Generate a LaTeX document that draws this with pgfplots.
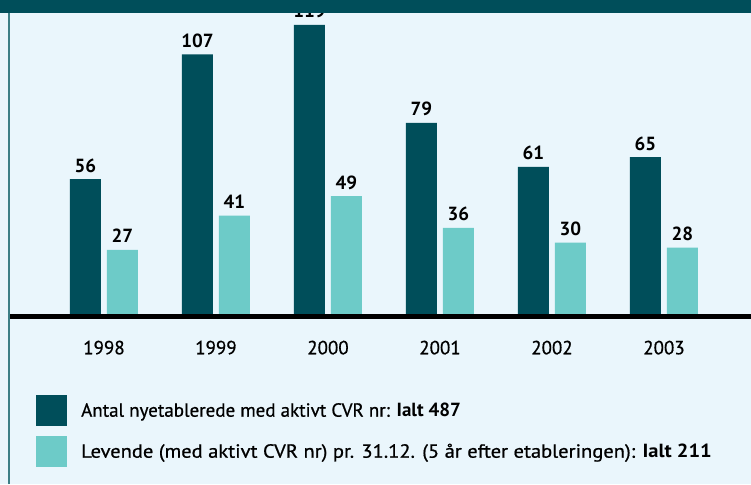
\documentclass[border=0pt]{standalone}
\usepackage{fontspec}
\setmainfont{PT Sans}
\newfontfamily\medfont[FakeBold=0.7]{PT Sans}
\usepackage{pgfplots}
\pgfplotsset{compat=1.18}
\definecolor{dk}{HTML}{004E5A}
\definecolor{lt}{HTML}{6DCBC8}
\definecolor{bg}{HTML}{EAF6FC}
\definecolor{brd}{HTML}{3D7F86}
\newcommand{\fs}{\fontsize{19}{23}\selectfont}
\begin{document}
\begin{tikzpicture}[x=1pt,y=1pt]
\fill[bg] (0,0) rectangle (751,484);
\begin{axis}[
  at={(10pt,168pt)}, anchor=south west,
  scale only axis, width=741pt, height=303pt,
  xmin=-0.839, xmax=5.777, ymin=0, ymax=123.9,
  ybar, bar width=31pt, clip=false,
  axis line style={draw=none}, tick style={draw=none},
  ytick=\empty, xtick=data,
  xticklabels={1998,1999,2000,2001,2002,2003},
  xticklabel style={font=\fs\medfont, anchor=base, yshift=-34pt, inner sep=0pt},
  /pgf/number format/assume math mode=true,
  nodes near coords,
  every node near coord/.append style={font=\fs\bfseries, anchor=base, yshift=7pt, inner sep=0pt, text=black},
]
\addplot[fill=dk, draw=none, bar shift=-18.5pt] coordinates {(0,56) (1,107) (2,119) (3,79) (4,61) (5,65)};
\addplot[fill=lt, draw=none, bar shift=18.5pt] coordinates {(0,27) (1,41) (2,49) (3,36) (4,30) (5,28)};
\end{axis}
\draw[line width=5pt, black] (8,167.5) -- (751,167.5);
\draw[brd, line width=2pt] (9,0) -- (9,471);
\fill[dk] (0,471) rectangle (751,484);
\fill[dk] (36,58) rectangle (67,89);
\fill[lt] (36,17) rectangle (67,48);
\node[anchor=base west, inner sep=0pt, font=\fs] at (81,67.3) {\medfont Antal nyetablerede med aktivt CVR nr: \normalfont\bfseries Ialt 487};
\node[anchor=base west, inner sep=0pt, font=\fs, xscale=1.08] at (81,26.3) {\medfont Levende (med aktivt CVR nr) pr. 31.12. (5 år efter etableringen): \normalfont\bfseries Ialt 211};
\pgfresetboundingbox
\useasboundingbox (0,0) rectangle (751,484);
\end{tikzpicture}
\end{document}
